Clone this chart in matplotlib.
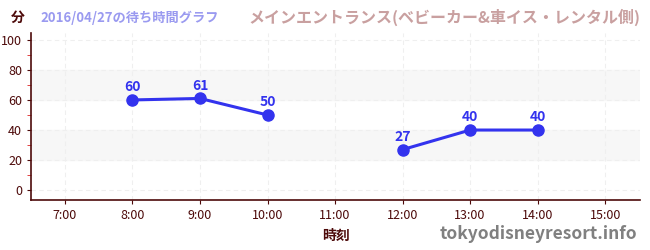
import matplotlib
matplotlib.use("Agg")
import matplotlib.pyplot as plt
import numpy as np

plt.rcParams['font.family'] = ['Noto Sans CJK JP', 'DejaVu Sans']

hours = [8, 9, 10, 11, 12, 13, 14]
waits = [60, 61, 50, np.nan, 27, 40, 40]
tick_hours = [7, 8, 9, 10, 11, 12, 13, 14, 15]
tick_labels = [f"{h}:00" for h in tick_hours]

dark = "#4d0a0a"
blue = "#3333ee"

fig = plt.figure(figsize=(6.5, 2.5), dpi=100)
ax = fig.add_axes([0.048, 0.2, 0.937, 0.668])

for lo, hi in [(20, 40), (60, 80)]:
    ax.axhspan(lo, hi, color="#f7f7f7", zorder=0)

ax.plot(hours, waits, color=blue, lw=2.2, marker="o", ms=8, zorder=3)
for h, w in zip(hours, waits):
    if not np.isnan(w):
        ax.annotate(f"{int(w)}", (h, w), xytext=(0, 4), textcoords="offset points",
                    ha="center", va="bottom", color=blue, fontsize=10, fontweight="bold")

ax.set_xlim(6.5, 15.52)
ax.set_ylim(-6.5, 104.5)
ax.set_xticks(tick_hours)
ax.set_xticklabels(tick_labels)
ax.set_yticks([0, 20, 40, 60, 80, 100])
ax.set_yticks([10, 30, 50, 70, 90], minor=True)
ax.tick_params(axis="both", colors=dark, labelsize=9, length=3)
ax.tick_params(axis="y", which="minor", colors="#dd2222", length=3)
for lab in ax.get_xticklabels() + ax.get_yticklabels():
    lab.set_color(dark)
ax.grid(True, color="#efefef", linestyle=(0, (4, 3)), lw=0.8)
ax.set_axisbelow(True)
for s in ["top", "right"]:
    ax.spines[s].set_visible(False)
for s in ["left", "bottom"]:
    ax.spines[s].set_color(dark)
    ax.spines[s].set_linewidth(1.2)

ax.set_xlabel("時刻", color=dark, fontsize=10, fontweight="bold", labelpad=5)

fig.text(0.028, 0.93, "分", color=dark, fontsize=10, fontweight="bold", ha="center", va="center")
fig.text(0.062, 0.93, "2016/04/27の待ち時間グラフ", color="#9a9af0", fontsize=9.5,
         fontweight="bold", ha="left", va="center")
fig.text(0.985, 0.93, "メインエントランス(ベビーカー&車イス・レンタル側)", color="#c9a0a0",
         fontsize=11.5, fontweight="bold", ha="right", va="center")
fig.text(0.98, 0.065, "tokyodisneyresort.info", color="#808080", fontsize=12.5,
         fontweight="bold", ha="right", va="center")

fig.savefig("out.png", dpi=100)
